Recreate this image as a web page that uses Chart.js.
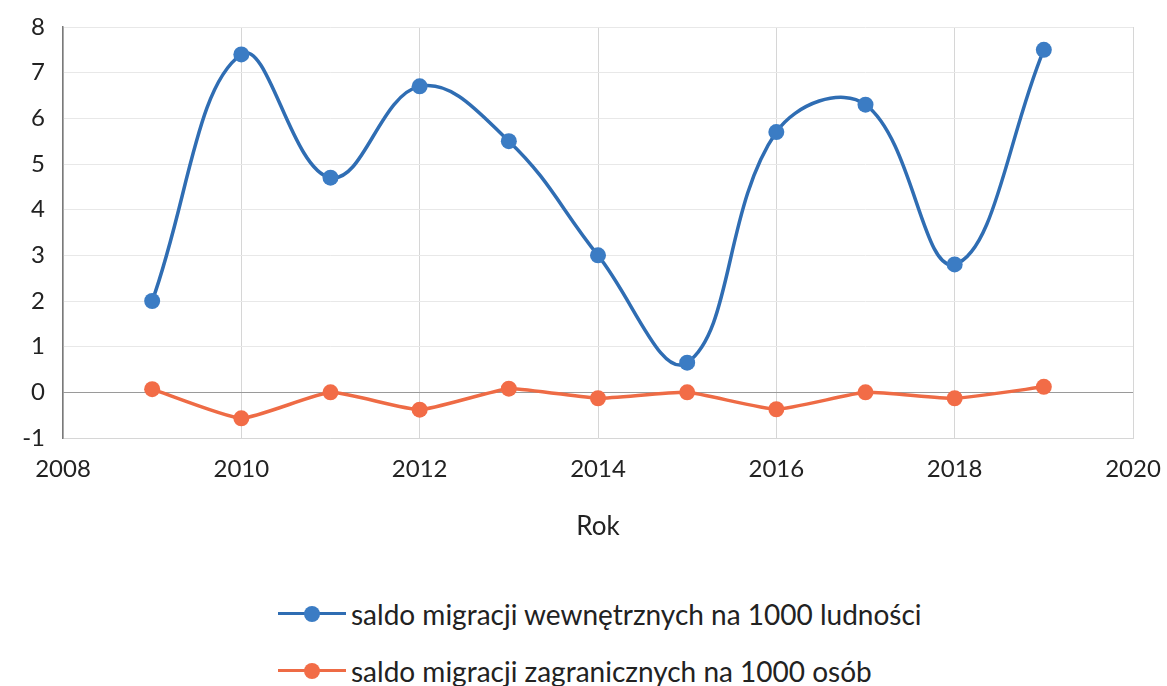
<!DOCTYPE html>
<html>
<head>
<meta charset="utf-8">
<script src="https://cdn.jsdelivr.net/npm/chart.js@4.4.0/dist/chart.umd.min.js"></script>
<style>
body { margin: 0; background: #fff; font-family: Lato, sans-serif; }
#wrap { position: relative; width: 1167px; height: 686px; }
.leg { position: absolute; left: 278px; display: flex; align-items: center; font-size: 28px; color: #222; white-space: nowrap; }
.mk { position: relative; width: 68px; height: 20px; margin-right: 5px; }
.mk .ln { position: absolute; left: 0; right: 0; top: 8px; height: 3px; }
.mk .dt { position: absolute; left: 26px; top: 2px; width: 16px; height: 16px; border-radius: 50%; }
</style>
</head>
<body>
<div id="wrap">
  <canvas id="chart" width="1167" height="545"></canvas>
  <div class="leg" style="top:597px">
    <div class="mk"><div class="ln" style="background:#2f6db3"></div><div class="dt" style="background:#3b7cc4"></div></div>
    <span id="leg1"></span>
  </div>
  <div class="leg" style="top:654px">
    <div class="mk"><div class="ln" style="background:#ee6b45"></div><div class="dt" style="background:#f26c47"></div></div>
    <span id="leg2"></span>
  </div>
</div>
<script>
// Years and values
const years = [2009, 2010, 2011, 2012, 2013, 2014, 2015, 2016, 2017, 2018, 2019];
const internalRate = [2.0, 7.4, 4.7, 6.7, 5.5, 3.0, 0.65, 5.7, 6.3, 2.8, 7.5];
const foreignRate = [0.07, -0.57, 0.0, -0.38, 0.08, -0.13, 0.0, -0.37, 0.0, -0.13, 0.12];
const seriesNames = ['saldo migracji wewnętrznych na 1000 ludności', 'saldo migracji zagranicznych na 1000 osób'];
const xRange = [2008, 2020];
const yRange = [-1, 8];
const axisTitle = 'Rok';

document.getElementById('leg1').textContent = seriesNames[0];
document.getElementById('leg2').textContent = seriesNames[1];

const toPoints = vals => vals.map((v, i) => ({ x: years[i], y: v }));

new Chart(document.getElementById('chart'), {
    type: 'line',
    data: {
        datasets: [
            {
                label: seriesNames[0],
                data: toPoints(internalRate),
                borderColor: '#2f6db3',
                backgroundColor: '#3b7cc4',
                borderWidth: 3.5,
                pointRadius: 8,
                pointBorderWidth: 0,
                tension: 0.4
            },
            {
                label: seriesNames[1],
                data: toPoints(foreignRate),
                borderColor: '#ee6b45',
                backgroundColor: '#f26c47',
                borderWidth: 3.5,
                pointRadius: 8,
                pointBorderWidth: 0,
                tension: 0.15
            }
        ]
    },
    options: {
        responsive: false,
        animation: false,
        devicePixelRatio: 1,
        layout: { padding: { top: 27, right: 34, left: 0, bottom: 0 } },
        plugins: { legend: { display: false }, tooltip: { enabled: false } },
        scales: {
            x: {
                type: 'linear',
                min: xRange[0],
                max: xRange[1],
                ticks: {
                    stepSize: 2,
                    color: '#222',
                    padding: 17,
                    font: { family: 'Lato', size: 24 },
                    callback: v => String(v)
                },
                grid: { color: '#d6d6d6', lineWidth: 1, drawTicks: false },
                border: { display: true, color: '#d6d6d6' },
                title: {
                    display: true,
                    text: axisTitle,
                    color: '#222',
                    font: { family: 'Lato', size: 26 },
                    padding: { top: 0, bottom: 3 }
                },
                afterFit: s => { s.height = 107; s.paddingLeft = 0; s.paddingRight = 0; }
            },
            y: {
                min: yRange[0],
                max: yRange[1],
                ticks: {
                    stepSize: 1,
                    color: '#222',
                    padding: 18,
                    font: { family: 'Lato', size: 24 }
                },
                grid: {
                    color: ctx => ctx.tick && ctx.tick.value === 0 ? '#9a9a9a' : '#e8e8e8',
                    lineWidth: 1,
                    drawTicks: false
                },
                border: { display: true, color: '#7a7a7a', width: 1.5 },
                afterFit: s => { s.width = 63; s.paddingTop = 0; s.paddingBottom = 0; }
            }
        }
    }
});
</script>
</body>
</html>
